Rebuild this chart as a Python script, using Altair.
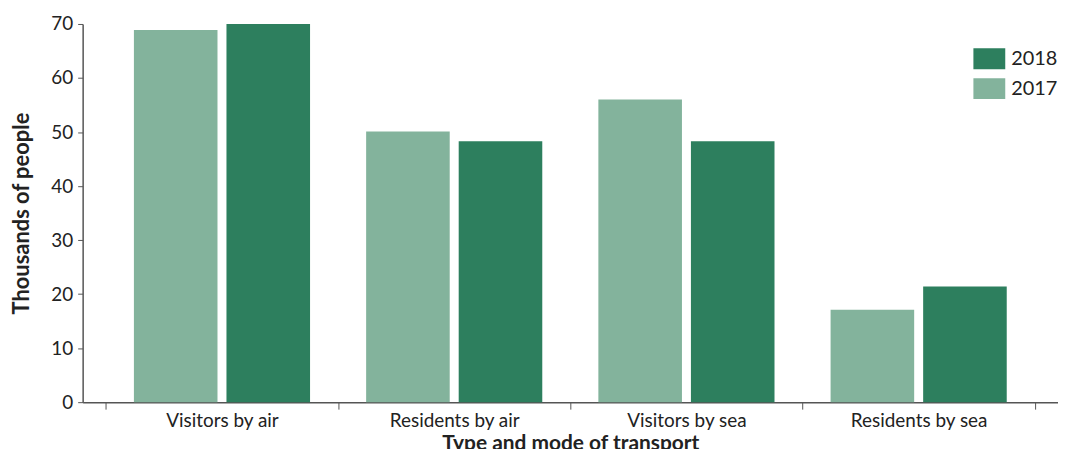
import altair as alt
import pandas as pd

categories = ["Visitors by air", "Residents by air", "Visitors by sea", "Residents by sea"]
values_2017 = [68.9, 50.1, 56.0, 17.1]
values_2018 = [70.0, 48.3, 48.3, 21.4]
y_ticks = [0, 10, 20, 30, 40, 50, 60, 70]

rows = []
for c, a, b in zip(categories, values_2017, values_2018):
    rows.append({"cat": c, "year": "2017", "value": a})
    rows.append({"cat": c, "year": "2018", "value": b})
df = pd.DataFrame(rows)

FONT = "Lato"
AXIS_COLOR = "#555555"

chart = alt.Chart(df).mark_bar().encode(
    x=alt.X("cat:N", sort=categories,
            scale=alt.Scale(paddingInner=0, paddingOuter=0.1),
            axis=alt.Axis(title="Type and mode of transport", labelAngle=0,
                          tickBand="extent", tickSize=7, labelPadding=2,
                          titlePadding=3, labelFontSize=19, titleFontSize=21,
                          titleFontWeight="bold")),
    xOffset=alt.XOffset("year:N", sort=["2017", "2018"],
                        scale=alt.Scale(paddingInner=0.097, paddingOuter=0.303)),
    y=alt.Y("value:Q", scale=alt.Scale(domain=[0, 70], nice=False),
            axis=alt.Axis(title="Thousands of people", values=y_ticks, grid=False,
                          tickSize=5, labelPadding=5, titlePadding=17,
                          labelFontSize=19, titleFontSize=22,
                          titleFontWeight="bold")),
    color=alt.Color("year:N",
                    scale=alt.Scale(domain=["2018", "2017"], range=["#2D7F5E", "#83B39C"]),
                    legend=alt.Legend(title=None, orient="none", legendX=895, legendY=19,
                                      symbolType="M-1,-0.656L1,-0.656L1,0.656L-1,0.656Z",
                                      symbolSize=1024, symbolStrokeWidth=0,
                                      symbolOpacity=1, labelFontSize=20,
                                      labelOffset=6, rowPadding=3, padding=0)),
).properties(
    width=980, height=380,
    autosize=alt.AutoSizeParams(type="none"),
    padding={"left": 75, "top": 15, "right": 0, "bottom": 46},
).configure_view(stroke=None).configure_axis(
    domainColor=AXIS_COLOR, tickColor=AXIS_COLOR, labelColor="#222222",
    titleColor="#222222", labelFont=FONT, titleFont=FONT, domainWidth=1.5,
).configure_legend(labelFont=FONT, labelColor="#222222")

chart.save("out.html", embed_options={"renderer": "svg", "actions": False})
